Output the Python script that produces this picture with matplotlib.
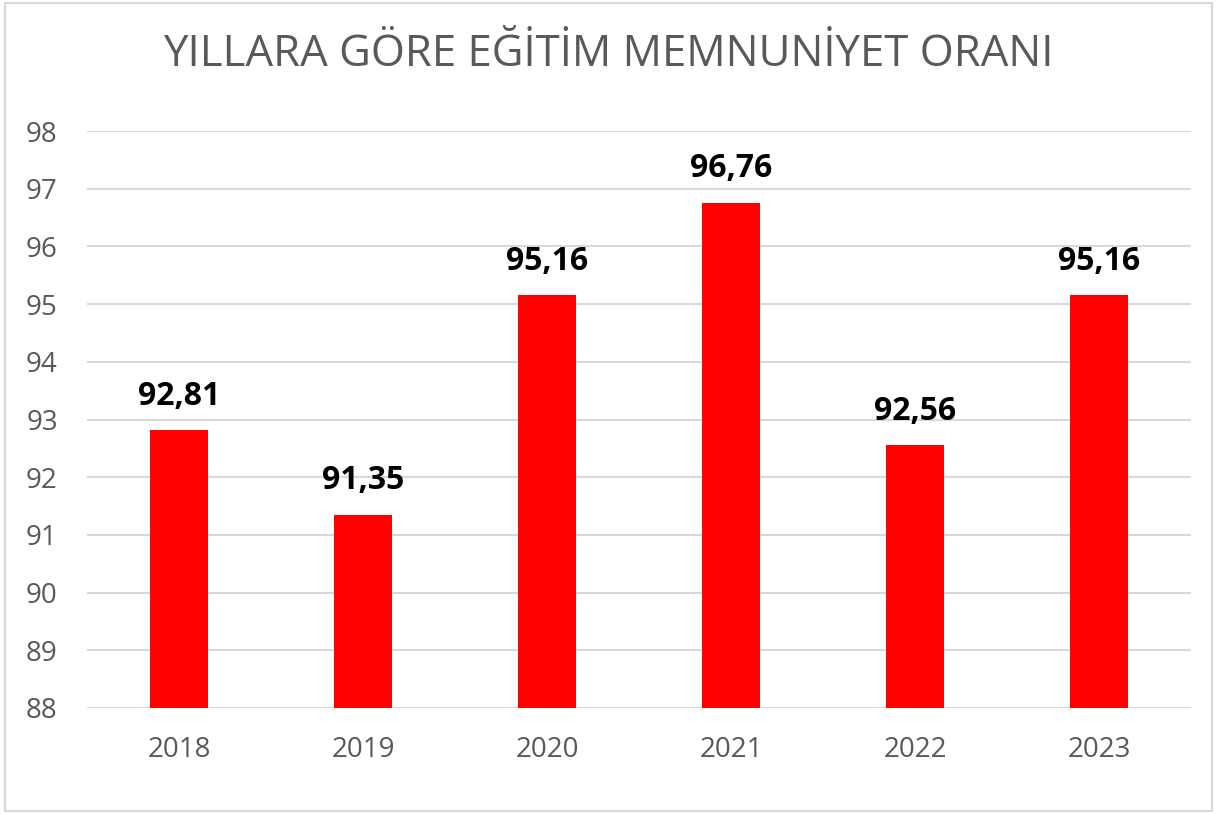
import matplotlib.pyplot as plt
from matplotlib.patches import Rectangle

plt.rcParams['font.family'] = ['Open Sans', 'DejaVu Sans']

years = ["2018", "2019", "2020", "2021", "2022", "2023"]
rates = [92.81, 91.35, 95.16, 96.76, 92.56, 95.16]
y_ticks = list(range(88, 99))

W, H = 1217, 814
fig = plt.figure(figsize=(W / 100, H / 100), dpi=100)
ax = fig.add_axes([87 / W, 1 - 708 / H, (1191 - 87) / W, (708 - 131) / H])

x = range(len(years))
ax.bar(x, rates, width=0.31, color="#ff0000", zorder=3)
ax.set_xlim(-0.5, len(years) - 0.5)
ax.set_ylim(88, 98)
ax.set_yticks(y_ticks)
ax.set_xticks(list(x))
ax.set_xticklabels(years)

# value labels, Turkish decimal comma
for xi, v in zip(x, rates):
    ax.text(xi, v + 0.3, f"{v:.2f}".replace(".", ","), ha="center", va="bottom",
            fontsize=23, fontweight="bold", color="black")

ax.grid(axis="y", color="#d9d9d9", linewidth=1.5, zorder=0)
for s in ax.spines.values():
    s.set_visible(False)
ax.tick_params(length=0, labelsize=20, labelcolor="#595959")
ax.tick_params(axis="y", pad=21)
ax.tick_params(axis="x", pad=20)

fig.text(0.5, 1 - 55 / H, "YILLARA GÖRE EĞİTİM MEMNUNİYET ORANI", ha="center",
         va="center", fontsize=31.5, color="#595959")

# chart frame
fig.patches.append(Rectangle((5 / W, 3 / H), (1212 - 5) / W, (811 - 3) / H,
                             transform=fig.transFigure, fill=False,
                             edgecolor="#d9d9d9", linewidth=1.5))

fig.savefig("out.png", dpi=100)
